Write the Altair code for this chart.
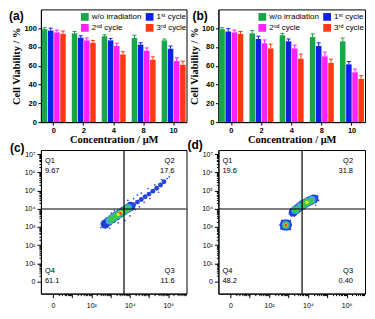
import math
import altair as alt
import pandas as pd

# ---------------- data ----------------
concentrations = ["0", "2", "4", "8", "10"]
series_names = ["w/o irradiation", "1ˢᵗ cycle", "2ⁿᵈ cycle", "3ʳᵈ cycle"]
series_colors = ["#17a64a", "#1020e6", "#ff22ff", "#ff3a12"]

a_wo = [99, 94.5, 91.5, 89.5, 87]
a_c1 = [97.5, 90, 87, 82.5, 78]
a_c2 = [95.5, 87, 81, 76, 65]
a_c3 = [94, 84.5, 72, 66.5, 61]
a_err_wo = [1.5, 2, 1.5, 3, 1.5]
a_err_c1 = [2.5, 2, 2, 2, 3]
a_err_c2 = [2.5, 2.5, 3, 3, 3.5]
a_err_c3 = [3, 2.5, 3, 3, 4]

b_wo = [99, 94.5, 92.5, 90.5, 86]
b_c1 = [96.5, 88.5, 86, 81, 61.5]
b_c2 = [95.5, 84, 78.5, 70, 53]
b_c3 = [94, 78.5, 67.5, 63, 46]
b_err_wo = [1.5, 3, 2, 3.5, 3.5]
b_err_c1 = [3, 3, 2.5, 3.5, 3]
b_err_c2 = [2.5, 3.5, 3.5, 4.5, 3.5]
b_err_c3 = [2.5, 4.5, 5, 4, 3.5]

panel_labels = ["(a)", "(b)", "(c)", "(d)"]

# flow cytometry: density classes and points (decade units on the display axes)
levels = ["dot", "edge", "tail", "mid", "green", "yellow", "red"]
level_colors = {"dot": "#2f4fe0", "edge": "#1f3fd6", "tail": "#2446dc", "mid": "#3aaed8",
                "green": "#3cc64a", "yellow": "#e4e22c", "red": "#ff2a1a"}
level_sizes = {"dot": 3, "edge": 85, "tail": 24, "mid": 64, "green": 44, "yellow": 13, "red": 6}

c_dot = [(2.5, 2.95), (2.6, 3.25), (2.95, 2.92), (3.4, 3.22), (4.3, 3.95), (4.5, 4.1), (4.2, 4.55),
         (4.6, 4.85), (5.05, 4.55), (4.95, 5.1), (5.5, 4.9), (5.65, 5.6), (5.95, 5.65), (3.9, 4.45),
         (3.2, 3.9), (2.8, 3.0), (4.0, 3.6), (3.75, 3.35), (5.3, 5.3), (4.75, 4.35), (6.05, 5.75),
         (3.05, 3.75), (4.4, 4.75)]
c_edge = [(2.72, 3.15), (2.9, 3.3), (3.1, 3.45), (3.3, 3.6), (3.5, 3.74), (3.7, 3.88), (3.9, 4.02), (4.05, 4.12)]
c_tail = [(4.2, 4.22), (4.4, 4.36), (4.6, 4.5), (4.8, 4.65), (5.0, 4.8), (5.2, 4.96), (5.4, 5.12),
          (5.6, 5.3), (5.78, 5.48)]
c_mid = [(2.95, 3.35), (3.15, 3.5), (3.35, 3.63), (3.55, 3.77), (3.75, 3.9), (3.92, 4.03)]
c_green = [(3.05, 3.42), (3.25, 3.56), (3.45, 3.7), (3.65, 3.84), (3.85, 3.97)]
c_yellow = [(3.4, 3.68), (3.55, 3.78)]
c_red = [(3.52, 3.75)]
c_gate = (3.7, 3.98)
c_quad = ["Q1\n9.67", "Q2\n17.6", "Q3\n11.6", "Q4\n61.1"]

d_dot = [(2.6, 2.9), (3.1, 2.85), (2.65, 3.35), (3.1, 3.35), (3.15, 3.6), (3.05, 3.72), (4.5, 4.7),
         (4.55, 4.45), (4.3, 4.7), (3.6, 4.4), (4.4, 4.2), (3.3, 3.6), (3.5, 4.3), (2.55, 3.1), (3.15, 3.1)]
d_edge = [(2.8, 3.05), (2.92, 3.15), (2.86, 3.1), (2.8, 3.15), (2.92, 3.05),
          (3.25, 3.82), (3.4, 3.95), (3.55, 4.07), (3.7, 4.18), (3.85, 4.28), (4.0, 4.37), (4.15, 4.45), (4.3, 4.53)]
d_tail = [(3.15, 3.74), (4.42, 4.6)]
d_mid = [(2.86, 3.1), (3.35, 3.92), (3.6, 4.1), (3.8, 4.25), (4.0, 4.36), (4.2, 4.47)]
d_green = [(2.86, 3.1), (3.38, 3.94), (3.78, 4.23), (3.95, 4.33), (4.12, 4.42)]
d_yellow = [(2.86, 3.1), (3.95, 4.35)]
d_red = [(2.86, 3.1)]
d_gate = (3.7, 3.98)
d_quad = ["Q1\n19.6", "Q2\n31.8", "Q3\n0.40", "Q4\n48.2"]

# ---------------- helpers ----------------
SANS = "Liberation Sans"
SERIF = "Liberation Serif"


def text_layer(txt, x, y, align, size, weight="normal", baseline="top"):
    return alt.Chart(pd.DataFrame({"t": [txt]})).mark_text(
        align=align, baseline=baseline, fontSize=size, fontWeight=weight, font=SANS,
        lineBreak="\n", lineHeight=10, color="black"
    ).encode(text="t:N", x=alt.value(x), y=alt.value(y))


def bar_panel(vals, errs, label, w, h, lab_x):
    rows = []
    for si, s in enumerate(series_names):
        for ci, c in enumerate(concentrations):
            rows.append({"conc": c, "series": s, "value": vals[si][ci],
                         "hi": vals[si][ci] + errs[si][ci]})
    df = pd.DataFrame(rows)
    x = alt.X("conc:N", sort=concentrations,
              scale=alt.Scale(paddingInner=0.2, paddingOuter=0.03),
              axis=alt.Axis(title="Concentration / μM", labelAngle=0, labelFont=SANS,
                            labelFontWeight="bold", labelFontSize=7.5, labelPadding=1,
                            tickSize=3, titleFont=SERIF, titleFontWeight="bold",
                            titleFontSize=10.5, titlePadding=1))
    xo = alt.XOffset("series:N", sort=series_names, scale=alt.Scale(paddingInner=0.1))
    yscale = alt.Scale(domain=[0, 120], nice=False)
    yaxis = alt.Axis(values=[0, 20, 40, 60, 80, 100], title="Cell Viability / %",
                     titleFont=SERIF, titleFontWeight="bold", titleFontSize=10.5,
                     titlePadding=2, labelFont=SANS, labelFontWeight="bold",
                     labelFontSize=7.5, labelPadding=1.5, tickSize=3)
    legend = alt.Legend(orient="none", legendX=40, legendY=3.5, columns=2, columnPadding=4,
                        direction="horizontal",
                        rowPadding=3, symbolType="square", symbolSize=60, symbolStrokeWidth=0,
                        symbolOpacity=1, labelFontSize=8, labelFont=SANS, title=None,
                        padding=0, labelOffset=3)
    color = alt.Color("series:N", sort=series_names,
                      scale=alt.Scale(domain=series_names, range=series_colors), legend=legend)
    bars = alt.Chart(df).mark_bar(opacity=1).encode(
        x=x, xOffset=xo, y=alt.Y("value:Q", scale=yscale, axis=yaxis), color=color)
    err = alt.Chart(df).mark_rule(strokeWidth=1).encode(
        x=x, xOffset=xo, y=alt.Y("value:Q", scale=yscale, axis=yaxis), y2="hi:Q", color=color)
    cap = alt.Chart(df).mark_tick(thickness=1, size=4, opacity=1).encode(
        x=x, xOffset=xo, y=alt.Y("hi:Q", scale=yscale, axis=yaxis), color=color)
    lab = text_layer(label, lab_x, 7, "left", 12, "bold", "middle")
    return alt.layer(bars, err, cap, lab).properties(width=w, height=h)


major = list(range(0, 8))
minor = [round(d + math.log10(k), 4) for d in range(0, 7) for k in range(2, 10)]
x_ticks = [float(v) for v in sorted(major + minor) if v <= 6.95]
y_ticks = [float(v) for v in sorted(major + minor) if v <= 7.2]
sup = {1: "¹", 2: "²", 3: "³", 4: "⁴", 5: "⁵", 6: "⁶", 7: "⁷"}
x_label_expr = "datum.value === 0 ? '0' : " + " : ".join(
    f"datum.value === {k} ? '10{sup[k]}'" for k in [2, 4, 6]) + " : ''"
y_label_expr = "datum.value === 0 ? '0' : " + " : ".join(
    f"datum.value === {k} ? '10{sup[k]}'" for k in range(1, 8)) + " : ''"
tick_cond = {"condition": {"test": "datum.value % 1 === 0", "value": 4}, "value": 2}


def flow_panel(groups, gate, quad, label, w, h, lab_x, lab_y):
    rows = []
    for li, lvl in enumerate(levels):
        for (u, v) in groups[li]:
            rows.append({"u": u, "v": v, "lvl": lvl})
    df = pd.DataFrame(rows)
    xs = alt.Scale(domain=[-0.62, 6.95], nice=False, zero=False)
    ys = alt.Scale(domain=[-0.67, 7.22], nice=False, zero=False)
    xaxis = alt.Axis(title=None, values=x_ticks, labelExpr=x_label_expr, tickSize=tick_cond,
                     labelFont=SANS, labelFontSize=7, labelPadding=4, labelOverlap=False,
                     labelFlush=False, grid=False)
    yaxis = alt.Axis(title=None, values=y_ticks, labelExpr=y_label_expr, tickSize=tick_cond,
                     labelFont=SANS, labelFontSize=7, labelPadding=2, labelOverlap=False,
                     labelFlush=False, grid=False)
    layers = []
    base = alt.Chart(df)
    for lvl in levels:
        layers.append(
            base.transform_filter(alt.datum.lvl == lvl).mark_circle(
                opacity=1, strokeWidth=0, size=level_sizes[lvl], color=level_colors[lvl]
            ).encode(x=alt.X("u:Q", scale=xs, axis=xaxis), y=alt.Y("v:Q", scale=ys, axis=yaxis))
        )
    vline = alt.Chart(pd.DataFrame({"u": [gate[0]]})).mark_rule(
        color="black", strokeWidth=1.2).encode(x=alt.X("u:Q", scale=xs, axis=xaxis))
    hline = alt.Chart(pd.DataFrame({"v": [gate[1]]})).mark_rule(
        color="black", strokeWidth=1.2).encode(y=alt.Y("v:Q", scale=ys, axis=yaxis))
    q1 = text_layer(quad[0], 4, 7.5, "left", 7.5)
    q2 = text_layer(quad[1], w - 12, 7.5, "right", 7.5)
    q3 = text_layer(quad[2], w - 12, 117.5, "right", 7.5)
    q4 = text_layer(quad[3], 4, 117.5, "left", 7.5)
    lab = text_layer(label, lab_x, lab_y, "left", 12, "bold", "middle")
    return alt.layer(*layers, vline, hline, q1, q2, q3, q4, lab).properties(width=w, height=h)


pa = bar_panel([a_wo, a_c1, a_c2, a_c3], [a_err_wo, a_err_c1, a_err_c2, a_err_c3],
               panel_labels[0], 146, 113, -32)
pb = bar_panel([b_wo, b_c1, b_c2, b_c3], [b_err_wo, b_err_c1, b_err_c2, b_err_c3],
               panel_labels[1], 147, 113, -26)
pc = flow_panel([c_dot, c_edge, c_tail, c_mid, c_green, c_yellow, c_red], c_gate, c_quad,
                panel_labels[2], 146, 144, -31, -2)
pd_ = flow_panel([d_dot, d_edge, d_tail, d_mid, d_green, d_yellow, d_red], d_gate, d_quad,
                 panel_labels[3], 147, 144, -31, -5)

chart = alt.concat(pa, pb, pc, pd_, columns=2, spacing={"row": 28, "column": 32}).properties(
    bounds="flush", padding=0, background="white"
).resolve_scale(
    color="independent", x="independent", y="independent"
).resolve_legend(color="independent").configure_axis(
    domainColor="black", tickColor="black", labelColor="black", titleColor="black",
    domainWidth=1, tickWidth=1, grid=False
).configure_view(stroke="black", strokeWidth=1)

chart.save("out.html", embed_options={"renderer": "svg", "actions": False})
